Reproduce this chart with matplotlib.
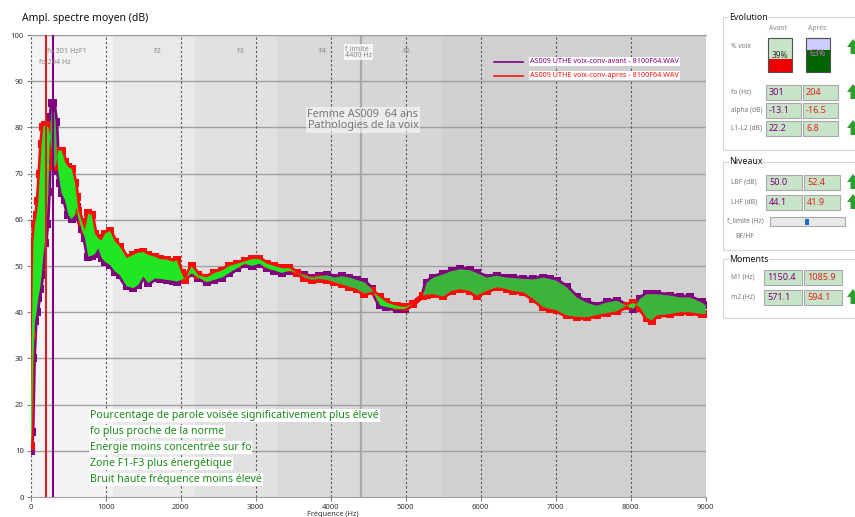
import numpy as np
import matplotlib.pyplot as plt
from matplotlib.patches import Rectangle, Polygon

plt.rcParams['font.family'] = ['Noto Sans', 'DejaVu Sans']

# mean spectrum (Hz, dB)
freq = [0, 15, 35, 57, 80, 101, 124, 147, 168, 190, 213, 235, 250, 271, 290, 301,
        333, 350, 368, 390, 413, 457, 502, 547, 590, 613, 635, 680, 724, 768, 813,
        857, 901, 946, 991, 1057, 1124, 1190, 1280, 1368, 1435, 1502, 1568, 1657,
        1724, 1813, 1902, 1946, 2013, 2057, 2146, 2235, 2350, 2450, 2550, 2650,
        2750, 2860, 2950, 3050, 3150, 3250, 3350, 3450, 3550, 3650, 3750, 3850,
        3950, 4050, 4150, 4250, 4350, 4450, 4550, 4657, 4743, 4879, 4990, 5097,
        5231, 5279, 5368, 5501, 5612, 5724, 5857, 5946, 6079, 6212, 6346, 6435,
        6568, 6702, 6835, 6924, 7012, 7146, 7279, 7412, 7546, 7679, 7813, 7946,
        8035, 8124, 8212, 8279, 8346, 8524, 8657, 8790, 8946, 9000]
avant = [10, 14, 30, 38, 40, 43, 45, 48, 52, 55, 59, 66, 75, 82.3, 85.2, 85.2,
         81.2, 75, 70.5, 68, 65.7, 64.3, 61, 60.1, 61, 62.8, 60.5, 58, 56, 52, 52.2,
         52.6, 53.8, 51.7, 50.9, 50.2, 48.8, 48, 45.6, 45.2, 45.9, 47.7, 46.3, 47.3,
         47.2, 47, 46.8, 46.6, 47, 47.5, 48.4, 47.5, 46.5, 47, 47.5, 48.5,
         49.5, 50.5, 50, 50.5, 49.5, 49, 48.5, 49, 48.5, 48, 47.5, 47.8,
         48, 47.5, 47.8, 47.5, 47, 46.5, 45, 41.5, 41.1, 40.7, 40.7, 41.8,
         43.6, 46.4, 47.5, 48.2, 48.9, 49.3, 49.1, 48.5, 47.5, 47.9, 47.5, 47.4,
         47.2, 47.1, 47.5, 47.2, 46.8, 45.4, 43.2, 42.1, 41.4, 42.1, 42.5, 41.4,
         40.7, 42.9, 43.9, 43.9, 43.9, 43.6, 43.2, 43.2, 42.1, 41.5]
apres = [11, 35, 55, 59, 61, 64, 70, 76.5, 80, 80.5, 80.5, 80, 79, 76, 74, 71.5,
         71.6, 73, 75, 75, 75, 72.5, 71.4, 71, 68, 65, 62, 59.6, 57.8, 61.4, 61,
         57, 56, 55.5, 57, 57.6, 55.3, 54.2, 51.7, 52.4, 52.9, 53, 52.4, 52,
         51.5, 51.4, 50.9, 51.3, 48.4, 47, 49.9, 48, 47.5, 48.5, 49, 50,
         50.5, 51, 51.5, 51.5, 50.5, 50, 49.5, 49.5, 48.5, 47.5, 47, 47.2,
         47, 46.5, 46, 45.5, 45, 44, 44.5, 43.2, 42.1, 41.4, 41.1, 41.8,
         43.6, 43.8, 43.9, 43.4, 44.6, 45, 44.6, 43.6, 44.6, 45.4, 45, 44.6,
         44.3, 42.9, 41.1, 40.7, 40.4, 39.3, 39, 38.9, 39.4, 39.8, 40.2, 41.4,
         42, 41, 38.8, 38.2, 39.3, 39.6, 40, 40, 39.6, 39.6]

fo_avant, fo_apres = 301, 204
f_limite = 4400
# formant zones shading
band_edges = [0, 1100, 2190, 3280, 4400, 5480, 9000]
band_colors = ['#f3f3f3', '#e9e9e9', '#e1e1e1', '#d9d9d9', '#d6d6d6', '#d0d0d0']
zone_labels = ['F2', 'F3', 'F4', 'F5']
zone_pos = [1690, 2790, 3880, 5000]

comments = ['Pourcentage de parole voisée significativement plus élevé',
            'fo plus proche de la norme',
            'Energie moins concentrée sur fo',
            'Zone F1-F3 plus énergétique',
            'Bruit haute fréquence moins élevé']

W, H = 855, 517
fig = plt.figure(figsize=(W / 100, H / 100), dpi=100)
ax = fig.add_axes([30.7 / W, 1 - 497 / H, 675 / W, 462 / H])

for i in range(len(band_colors)):
    ax.axvspan(band_edges[i], band_edges[i + 1], color=band_colors[i], lw=0, zorder=0)
ax.axvline(f_limite, color='#a8a8a8', lw=1.6, zorder=1)

for y in range(10, 101, 10):
    ax.axhline(y, color='#a0a0a0', lw=1, zorder=1)
for x in range(0, 9001, 1000):
    ax.axvline(x, color='#555555', lw=0.8, ls=(0, (2, 2)), zorder=1)

f = np.array(freq)
av = np.array(avant)
ap = np.array(apres)
ax.plot(f, av, color='#800080', lw=3.8, marker='s', ms=5.5, mew=0, zorder=3)
ax.plot(f, ap, color='#ff0a0a', lw=3.8, marker='s', ms=5.5, mew=0, zorder=3)
ax.fill_between(f, av, ap, where=ap >= av, interpolate=True, color='#22e622', lw=0, zorder=4)
ax.fill_between(f, av, ap, where=av > ap, interpolate=True, color='#3cb43c', lw=0, zorder=4)

ax.axvline(fo_apres, color='#d82020', lw=1.5, zorder=5)
ax.axvline(fo_avant, color='#800080', lw=1.5, zorder=5)

ax.set_xlim(0, 9000)
ax.set_ylim(0, 100)
for s in ['left', 'right']:
    ax.spines[s].set_visible(False)
for s in ['top', 'bottom']:
    ax.spines[s].set_color('#a0a0a0')
ax.set_xticks(range(0, 9001, 1000))
ax.set_yticks(range(0, 101, 10))
ax.tick_params(labelsize=5.5, length=3, color='#808080', labelcolor='#333333', pad=2)

lbl = dict(fontsize=5.2, color='#888888', zorder=6)
ax.text(213, 96.5, 'fo %d HzF1' % fo_avant, va='center', **lbl)
ax.text(110, 94, 'fo %d Hz' % fo_apres, va='center', **lbl)
for t, p in zip(zone_labels, zone_pos):
    ax.text(p, 96.5, t, ha='center', va='center', **lbl)
ax.text(4190, 96.3, 'f_limite\n%d Hz' % f_limite, va='center', linespacing=1.0,
        bbox=dict(fc='white', ec='none', pad=0.5, alpha=0.8), **lbl)

ax.text(4430, 81.6, 'Femme AS009  64 ans\nPathologies de la voix', ha='center', va='center',
        fontsize=7.8, color='#777777', linespacing=1.05, zorder=6,
        bbox=dict(fc='white', ec='none', pad=1, alpha=0.55))

for i, c in enumerate(comments):
    ax.text(790, 17.7 - i * 3.46, c, fontsize=7.6, color='#168a16', va='center', zorder=6,
            bbox=dict(fc='white', ec='none', pad=0.6))

# overlay in pixel coordinates
ov = fig.add_axes([0, 0, 1, 1])
ov.set_xlim(0, W)
ov.set_ylim(H, 0)
ov.axis('off')
ov.patch.set_visible(False)

ov.text(22, 18, 'Ampl. spectre moyen (dB)', fontsize=7.5, va='center', color='#111111')
ov.text(333, 515, 'Fréquence (Hz)', fontsize=5.3, ha='center', va='center', color='#333333')

# legend
ov.plot([494, 523], [61.5, 61.5], color='#800080', lw=1.2)
ov.plot([494, 523], [75.5, 75.5], color='#ff1010', lw=1.2)
ov.text(530, 61.5, 'AS009 UTHE voix-conv-avant - 8100F64.WAV', fontsize=5.2, color='#800080',
        va='center', bbox=dict(fc='white', ec='none', pad=0.5))
ov.text(530, 75.5, 'AS009 UTHE voix-conv-apres - 8100F64.WAV', fontsize=5.2, color='#ff1010',
        va='center', bbox=dict(fc='white', ec='none', pad=0.5))

# right panel
def group(y0, y1, title):
    ov.add_patch(Rectangle((723, y0), 140, y1 - y0, fc='none', ec='#d4d4d4', lw=0.8))
    ov.text(729, y0, title, fontsize=6.3, va='center', color='#111111',
            bbox=dict(fc='white', ec='none', pad=0.3))

def arrow(cy):
    cx = 853
    ov.add_patch(Polygon([(cx - 6, cy), (cx, cy - 8), (cx + 6, cy), (cx + 2.5, cy),
                          (cx + 2.5, cy + 7), (cx - 2.5, cy + 7), (cx - 2.5, cy)],
                         closed=True, fc='#2e9e2e', ec='none'))

def row(y, label, v1, v2, x0=766, w=35, gap=2, up=False):
    ov.text(731, y, label, fontsize=4.8, color='#777777', va='center')
    for k, (v, col) in enumerate([(v1, '#800080'), (v2, '#e02020')]):
        bx = x0 + k * (w + gap)
        ov.add_patch(Rectangle((bx, y - 7.5), w, 15, fc='#c8e4c8', ec='#a8a8a8', lw=0.8))
        ov.text(bx + 3, y + 0.5, v, fontsize=6.5, color=col, va='center')
    if up:
        arrow(y)

group(17, 150, 'Evolution')
ov.text(778, 29, 'Avant', fontsize=4.8, color='#888888', ha='center', va='center')
ov.text(817, 29, 'Aprés', fontsize=4.8, color='#888888', ha='center', va='center')
ov.text(731, 47, '% voix', fontsize=4.8, color='#777777', va='center')
ov.add_patch(Rectangle((768, 38), 24, 21, fc='#c8e4c8', ec='none'))
ov.add_patch(Rectangle((768, 59), 24, 13, fc='#ee0000', ec='none'))
ov.add_patch(Rectangle((768, 38), 24, 34, fc='none', ec='#505050', lw=0.8))
ov.text(780, 56, '39%', fontsize=6, color='#333333', ha='center', va='center', fontweight='bold')
ov.add_patch(Rectangle((806, 38), 24, 12, fc='#ccccff', ec='none'))
ov.add_patch(Rectangle((806, 50), 24, 22, fc='#006400', ec='none'))
ov.add_patch(Rectangle((806, 38), 24, 34, fc='none', ec='#505050', lw=0.8))
ov.text(818, 54, '63%', fontsize=6, color='#c070c0', ha='center', va='center', fontweight='bold')
arrow(47)

row(92, 'fo (Hz)', '301', '204', up=True)
row(110, 'alpha (dB)', '-13.1', '-16.5')
row(128, 'L1-L2 (dB)', '22.2', '6.8', up=True)

group(162, 250, 'Niveaux')
row(182, 'LBF (dB)', '50.0', '52.4', w=36, up=True)
row(202, 'LHF (dB)', '44.1', '41.9', w=36, up=True)
ov.text(727, 221, 'f_limite (Hz)', fontsize=4.8, color='#777777', va='center')
ov.add_patch(Rectangle((770, 217), 75, 9, fc='#e8e8e8', ec='#a8a8a8', lw=0.8))
ov.add_patch(Rectangle((805, 218.5), 4, 6.5, fc='#1a6fd0', ec='none'))
ov.text(735, 236, 'BF/HF', fontsize=4.8, color='#777777', va='center')

group(259, 318, 'Moments')
row(277, 'M1 (Hz)', '1150.4', '1085.9', x0=764, w=38)
row(297, 'm2 (Hz)', '571.1', '594.1', x0=764, w=38, up=True)

fig.savefig('out.png', dpi=100)
